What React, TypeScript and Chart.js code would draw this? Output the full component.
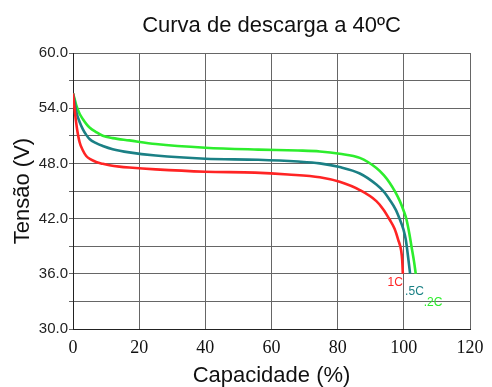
import React, { useEffect, useRef } from "react";
import { Chart, registerables } from "chart.js";

Chart.register(...registerables);

const TITLE = "Curva de descarga a 40ºC";
const X_TITLE = "Capacidade (%)";
const Y_TITLE = "Tensão (V)";
const SERIES_NAMES = ["1C", ".5C", ".2C"];
const SERIES_COLORS = ["#ff2424", "#1b8085", "#2ded2d"];

// Capacity (%) and voltage (V)
const CAP_1C = [0, 0.3, 0.7, 1.2, 2, 3, 4, 5.5, 7, 9, 11, 14, 17, 25, 40, 55, 65, 74.6, 80.6, 86.7, 91.7, 93.8, 95.7, 97.2, 98.3, 99.2, 99.5, 99.7];
const V_1C = [55.6, 54.5, 53.2, 51.8, 50.3, 49.4, 48.8, 48.4, 48.15, 47.95, 47.8, 47.65, 47.55, 47.35, 47.1, 47.0, 46.8, 46.5, 46.0, 45.1, 43.9, 43.0, 41.9, 40.9, 39.7, 38.5, 37.5, 36.0];

const CAP_05C = [0, 0.5, 1, 2, 3, 4, 5, 7, 9, 12, 17, 25, 40, 56, 68, 74.6, 80.6, 86.7, 91.7, 94, 95.7, 97.5, 98.8, 99.9, 100.6, 101.4, 101.9];
const V_05C = [55.6, 54.6, 53.6, 52.5, 51.7, 51.1, 50.65, 50.2, 49.9, 49.55, 49.2, 48.85, 48.5, 48.4, 48.2, 48.0, 47.6, 46.9, 45.7, 44.9, 44.05, 43.0, 41.9, 40.8, 39.7, 37.5, 36.0];

const CAP_02C = [0, 0.5, 1, 2, 3, 4, 5, 7, 9, 12, 17, 25, 40, 56, 68, 74.6, 80.6, 86.7, 91.7, 94, 95.7, 97.4, 98.8, 100, 100.8, 101.7, 102.3, 103.1, 103.6];
const V_02C = [55.6, 55.0, 54.3, 53.4, 52.8, 52.3, 51.9, 51.4, 51.0, 50.75, 50.5, 50.1, 49.7, 49.5, 49.4, 49.3, 49.05, 48.6, 47.5, 46.7, 45.9, 44.9, 43.9, 42.8, 41.9, 40.3, 39.0, 37.3, 36.0];

const X_MIN = 0;
const X_MAX = 120;
const X_STEP = 20;
const Y_MIN = 30;
const Y_MAX = 60;
const Y_STEP = 3;
const Y_LABEL_EVERY = 6;

const SANS = "'Liberation Sans', Arial, sans-serif";
const SERIF = "'Liberation Serif', 'Times New Roman', serif";

const pairs = (xs: number[], ys: number[]) => xs.map((x, i) => ({ x, y: ys[i] }));

const overlayPlugin = {
  id: "overlay",
  afterDraw(chart: any) {
    const { ctx, chartArea } = chart;
    ctx.save();
    // title centred over the plot area
    ctx.font = `22px ${SANS}`;
    ctx.fillStyle = "#111";
    ctx.textAlign = "center";
    ctx.textBaseline = "alphabetic";
    ctx.fillText(TITLE, (chartArea.left + chartArea.right) / 2, 32);

    // series labels next to the end of each curve
    const offsets = [
      { dx: 0, dy: 12, align: "right" },
      { dx: -5, dy: 21, align: "left" },
      { dx: 8, dy: 32, align: "left" },
    ];
    ctx.font = `12px ${SANS}`;
    chart.data.datasets.forEach((ds: any, i: number) => {
      const last = ds.data[ds.data.length - 1];
      const px = chart.scales.x.getPixelForValue(last.x);
      const py = chart.scales.y.getPixelForValue(last.y);
      const o = offsets[i];
      ctx.fillStyle = SERIES_COLORS[i];
      ctx.textAlign = o.align;
      ctx.fillText(SERIES_NAMES[i], px + o.dx, py + o.dy);
    });
    ctx.restore();
  },
};

export default function App() {
  const ref = useRef<HTMLCanvasElement | null>(null);

  useEffect(() => {
    if (!ref.current) return;
    const series = [pairs(CAP_1C, V_1C), pairs(CAP_05C, V_05C), pairs(CAP_02C, V_02C)];
    const chart = new Chart(ref.current, {
      type: "line",
      data: {
        datasets: series.map((data, i) => ({
          label: SERIES_NAMES[i],
          data,
          borderColor: SERIES_COLORS[i],
          backgroundColor: SERIES_COLORS[i],
          borderWidth: 2.6,
          pointRadius: 0,
          fill: false,
          cubicInterpolationMode: "monotone" as const,
        })),
      },
      options: {
        animation: false,
        responsive: false,
        layout: { padding: { top: 53, right: 22, bottom: 0, left: 0 } },
        plugins: {
          legend: { display: false },
          title: { display: false },
          tooltip: { enabled: false },
        },
        scales: {
          x: {
            type: "linear",
            min: X_MIN,
            max: X_MAX,
            ticks: {
              stepSize: X_STEP,
              color: "#111",
              font: { family: SERIF, size: 18 },
              padding: 8,
              maxRotation: 0,
            },
            grid: { color: "#666", drawTicks: false, lineWidth: 1 },
            border: { color: "#222", width: 1 },
            title: {
              display: true,
              text: X_TITLE,
              color: "#111",
              font: { family: SANS, size: 22, lineHeight: 1 },
              padding: 0,
            },
            afterFit: (scale: any) => {
              scale.height = 58;
            },
          },
          y: {
            type: "linear",
            min: Y_MIN,
            max: Y_MAX,
            ticks: {
              stepSize: Y_STEP,
              autoSkip: false,
              color: "#222",
              font: { family: SANS, size: 15 },
              padding: 1,
              callback: (v: any) => (Number(v) % Y_LABEL_EVERY === 0 ? Number(v).toFixed(1) : ""),
            },
            grid: { color: "#666", drawTicks: true, tickLength: 4, lineWidth: 1 },
            border: { color: "#222", width: 1 },
            title: {
              display: true,
              text: Y_TITLE,
              color: "#111",
              font: { family: SANS, size: 22, lineHeight: 1 },
              padding: { top: 12, bottom: 0 },
            },
            afterFit: (scale: any) => {
              scale.width = 73;
            },
          },
        },
      },
      plugins: [overlayPlugin],
    });
    return () => chart.destroy();
  }, []);

  return (
    <canvas
      ref={ref}
      width={492}
      height={387}
      style={{ position: "fixed", left: 0, top: 0, width: 492, height: 387, background: "#fff" }}
    />
  );
}
